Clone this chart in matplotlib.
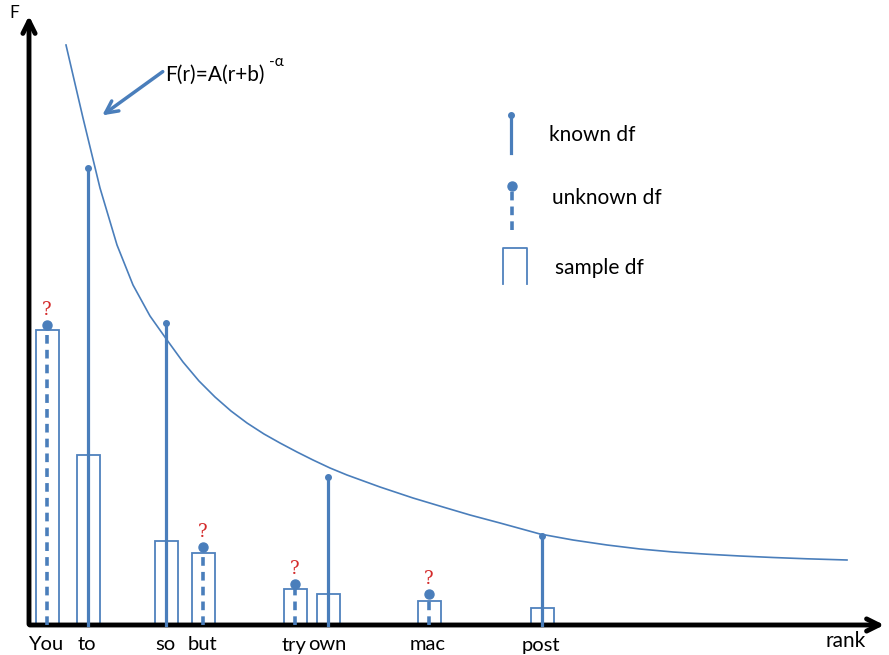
import matplotlib
matplotlib.use("Agg")
import matplotlib.pyplot as plt
import numpy as np

# words in rank order and where they sit along the rank axis
words = ['You', 'to', 'so', 'but', 'try', 'own', 'mac', 'post']
rank_pos = [18, 59, 137, 174, 266, 299, 400, 513]

# sample df (open bars)
sample_df = [295, 170, 84, 72, 36, 31, 24, 17]

# known df (solid stems)
known_words = ['to', 'so', 'own', 'post']
known_df = [457, 302, 148, 89]

# unknown df (dashed stems with "?")
unknown_words = ['You', 'but', 'try', 'mac']
unknown_df = [300, 78, 41, 31]

# fitted curve F(r)=A(r+b)^-alpha
curve_x = [37, 54, 71, 88, 104, 121, 138, 154, 170, 186, 202, 218, 235, 251, 268,
           284, 301, 318, 351, 384, 414, 441, 471, 511, 544, 578, 611, 644, 678,
           711, 744, 778, 818]
curve_y = [580, 507, 437, 380, 340, 309, 285, 263, 244, 228, 214, 202, 191, 182, 173,
           165, 157, 150, 138, 127, 118, 110, 102, 91, 85, 80, 76, 73, 70.8,
           69, 67.5, 66.2, 65]

blue = '#4a7ebb'
edge = '#4f81bd'
red = '#d42a2a'
font = ['Lato', 'DejaVu Sans']

fig = plt.figure(figsize=(8.89, 6.55), dpi=100)
ax = fig.add_axes([0, 0, 1, 1])
ax.set_xlim(-29, 860)
ax.set_ylim(-30, 625)
ax.axis('off')

# axes with arrows
ax.annotate('', xy=(0, 612), xytext=(0, -2),
            arrowprops=dict(arrowstyle='->', lw=3.5, color='black', mutation_scale=22))
ax.annotate('', xy=(858, 0), xytext=(-2, 0),
            arrowprops=dict(arrowstyle='->', lw=3.5, color='black', mutation_scale=22))
ax.text(-15, 612, 'F', fontsize=12.5, family=font, ha='center', va='center')
ax.text(817, -16, 'rank', fontsize=15, family=font, ha='center', va='center')

# sample bars
ax.bar(rank_pos, sample_df, width=23, facecolor='white', edgecolor=edge, lw=1.3, zorder=2)

# known stems
for w, v in zip(known_words, known_df):
    x = rank_pos[words.index(w)]
    ax.plot([x, x], [0, v], color=blue, lw=2.3, zorder=3)
    ax.plot(x, v, marker='o', ms=4, color=blue, zorder=4)

# unknown stems
for w, v in zip(unknown_words, unknown_df):
    x = rank_pos[words.index(w)]
    ax.plot([x, x], [0, v], color=blue, lw=2.6, dashes=(2.4, 1.7), zorder=3)
    ax.plot(x, v, marker='o', ms=6.5, color=blue, zorder=4)
    ax.text(x, v + 15, '?', color=red, fontsize=13, family='DejaVu Serif',
            ha='center', va='center', zorder=4)

# curve
ax.plot(curve_x, curve_y, color=blue, lw=1.2, solid_joinstyle='round', zorder=2)

# formula label with arrow
ax.annotate('', xy=(71, 508), xytext=(136, 555),
            arrowprops=dict(arrowstyle='->', lw=2.5, color=blue, mutation_scale=22))
ax.text(136, 550, 'F(r)=A(r+b)', fontsize=15, family=font, ha='left', va='center')
ax.text(240, 563, '-\u03b1', fontsize=11, family=font, ha='left', va='center')

# legend
ax.plot([482, 482], [472, 510], color=blue, lw=2.3)
ax.plot(482, 510, marker='o', ms=4, color=blue)
ax.text(520, 490, 'known df', fontsize=15, family=font, ha='left', va='center')

ax.plot([483, 483], [395, 436], color=blue, lw=2.6, dashes=(2.4, 1.7))
ax.plot(483, 439, marker='o', ms=6.5, color=blue)
ax.text(523, 427, 'unknown df', fontsize=15, family=font, ha='left', va='center')

ax.plot([474, 474, 498, 498], [341, 377, 377, 341], color=edge, lw=1.3)
ax.text(526, 357, 'sample df', fontsize=15, family=font, ha='left', va='center')

# word labels
for w, x in zip(words, rank_pos):
    ax.text(x - 1, -20, w, fontsize=14.5, family=font, ha='center', va='center')

fig.savefig('out.png', dpi=100)
